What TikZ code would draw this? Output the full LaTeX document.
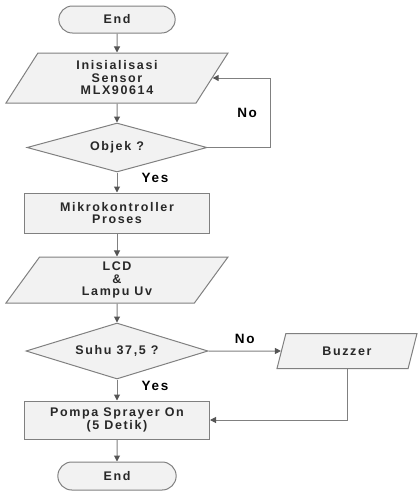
\documentclass[tikz,border=0pt]{standalone}
\usepackage{fontspec}
\setmainfont{Liberation Sans}[LetterSpace=13]
\usetikzlibrary{arrows.meta,positioning,shapes.geometric,shapes.misc}
\definecolor{boxfill}{RGB}{242,242,242}
\definecolor{boxline}{RGB}{128,128,128}
\definecolor{inkgray}{RGB}{40,40,40}
\definecolor{tipgray}{RGB}{85,85,85}

\begin{document}
\begin{tikzpicture}[
		x=1pt, y=1pt,
		on grid,
		font=\bfseries\fontsize{12.5}{12.5}\selectfont,
		base/.style={draw=boxline, fill=boxfill, text=inkgray, line width=1pt, align=center},
		terminal/.style={base, rounded rectangle, minimum width=123pt, minimum height=27pt},
		process/.style={base, rectangle, minimum width=185pt, minimum height=40pt},
		io/.style={base, trapezium, trapezium left angle=52, trapezium right angle=128, trapezium stretches body, minimum width=222pt, minimum height=50pt, inner xsep=0pt},
		decision/.style={base, diamond, aspect=3.6, minimum width=180pt, minimum height=49pt, inner sep=0pt},
		flow/.style={draw=boxline, line width=1pt, -{Triangle[length=6pt, width=6pt, color=tipgray]}},
		lbl/.style={font=\bfseries\fontsize{13.5}{13.5}\selectfont, text=black, inner sep=1pt},
	]
		\useasboundingbox (0,0) rectangle (419,-491);

		\node[terminal] (start) at (117,-19.5) {End};
		\node[io, below=58.5pt of start] (init) {Inisialisasi\\Sensor\\MLX90614};
		\node[decision, below=69.5pt of init] (objek) {Objek ?};
		\node[process, below=65.5pt of objek] (mikro) {Mikrokontroller\\Proses};
		\node[io, below=67pt of mikro, minimum height=46pt] (lcd) {LCD\\\&\\Lampu Uv};
		\node[decision, below=71pt of lcd, aspect=3.25, minimum width=182pt, minimum height=56pt] (suhu) {Suhu 37,5 ?};
		\node[io, right=230pt of suhu, trapezium left angle=60, trapezium right angle=120, minimum width=140pt, minimum height=35pt] (buzzer) {Buzzer};
		\node[process, below=69pt of suhu, minimum height=38pt] (pompa) {Pompa Sprayer On\\(5 Detik)};
		\node[terminal, below=56pt of pompa, minimum width=125pt, minimum height=28pt] (end) {End};

		\draw[flow] (start) -- (init);
		\draw[flow] (init) -- (objek);
		\draw[flow] (objek) -- (mikro) node[lbl, pos=0.25, right=23pt] {Yes};
		\draw[flow] (mikro) -- (lcd);
		\draw[flow] (lcd) -- (suhu);
		\draw[flow] (suhu) -- (pompa) node[lbl, pos=0.3, right=23pt] {Yes};
		\draw[flow] (pompa) -- (end);

		\coordinate[right=63pt of objek.east] (loopr);
		\draw[flow] (objek.east) -- (loopr) -- (loopr |- init.east) node[lbl, midway, left=12pt] {No} -- (init.east);
		\draw[flow] (suhu.east) -- (buzzer.west) node[lbl, midway, above=6pt] {No};
		\draw[flow] (buzzer.south -| buzzer.center) |- (pompa.east);
	\end{tikzpicture}
\end{document}
